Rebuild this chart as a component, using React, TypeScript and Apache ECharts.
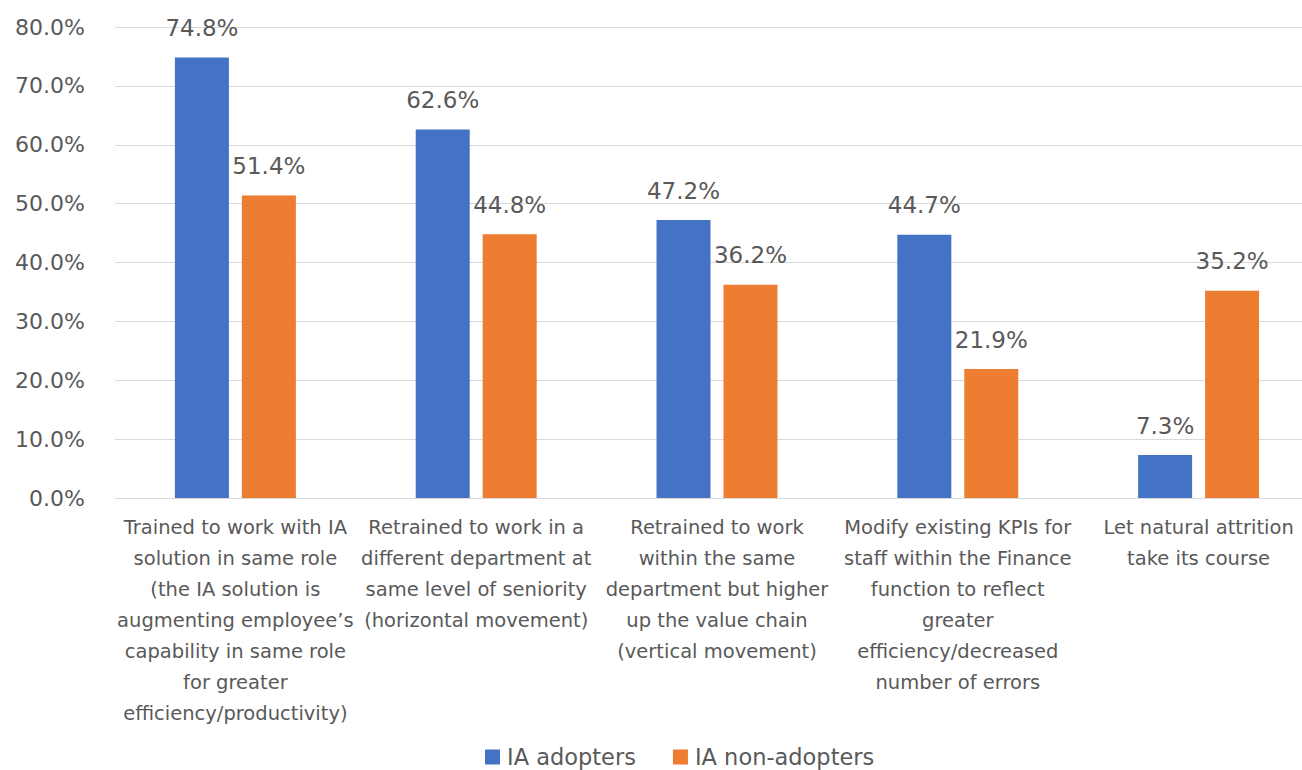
import React, { useEffect, useRef } from "react";
import * as echarts from "echarts";

const categories = [
  "Trained to work with IA\nsolution in same role\n(the IA solution is\naugmenting employee’s\ncapability in same role\nfor greater\nefficiency/productivity)",
  "Retrained to work in a\ndifferent department at\nsame level of seniority\n(horizontal movement)",
  "Retrained to work\nwithin the same\ndepartment but higher\nup the value chain\n(vertical movement)",
  "Modify existing KPIs for\nstaff within the Finance\nfunction to reflect\ngreater\nefficiency/decreased\nnumber of errors",
  "Let natural attrition\ntake its course",
];
const adopters = [74.8, 62.6, 47.2, 44.7, 7.3];
const nonAdopters = [51.4, 44.8, 36.2, 21.9, 35.2];
const seriesNames = ["IA adopters", "IA non-adopters"];

const FONT = "'DejaVu Sans', sans-serif";
const TXT = "#595959";

export default function App() {
  const ref = useRef<HTMLDivElement>(null);
  useEffect(() => {
    if (!ref.current) return;
    const chart = echarts.init(ref.current, null, { renderer: "svg" });
    const label = {
      show: true,
      position: "top" as const,
      distance: 18,
      color: TXT,
      fontSize: 23,
      fontFamily: FONT,
      formatter: (p: any) => p.value.toFixed(1) + "%",
    };
    chart.setOption({
      animation: false,
      textStyle: { fontFamily: FONT },
      grid: { left: 115, width: 1204, top: 27, bottom: 272, containLabel: false },
      legend: {
        top: 745,
        left: 485,
        padding: 0,
        itemWidth: 15,
        itemHeight: 15,
        itemGap: 37,
        icon: "rect",
        textStyle: { color: TXT, fontSize: 22.5, lineHeight: 24, fontFamily: FONT, padding: [0, 0, 0, 2] },
        data: seriesNames,
      },
      xAxis: {
        type: "category",
        data: categories,
        axisLine: { lineStyle: { color: "#d9d9d9" } },
        axisTick: { show: false },
        axisLabel: {
          interval: 0,
          color: TXT,
          fontSize: 19.5,
          lineHeight: 31,
          fontFamily: FONT,
          margin: 14,
        },
      },
      yAxis: {
        type: "value",
        min: 0,
        max: 80,
        interval: 10,
        axisLine: { show: false },
        axisTick: { show: false },
        splitLine: { lineStyle: { color: "#d9d9d9" } },
        axisLabel: {
          color: TXT,
          fontSize: 22,
          fontFamily: FONT,
          margin: 30,
          formatter: (v: number) => v.toFixed(1) + "%",
        },
      },
      series: [
        {
          name: seriesNames[0],
          type: "bar",
          data: adopters,
          barWidth: 54,
          barGap: "24%",
          itemStyle: { color: "#4472C4" },
          label,
        },
        {
          name: seriesNames[1],
          type: "bar",
          data: nonAdopters,
          barWidth: 54,
          itemStyle: { color: "#ED7D31" },
          label,
        },
      ],
    });
    return () => chart.dispose();
  }, []);
  return (
    <div
      style={{ position: "absolute", left: 0, top: 0, width: 1302, height: 770, overflow: "hidden", background: "#fff" }}
    >
      <div ref={ref} style={{ width: 1330, height: 770 }} />
    </div>
  );
}
